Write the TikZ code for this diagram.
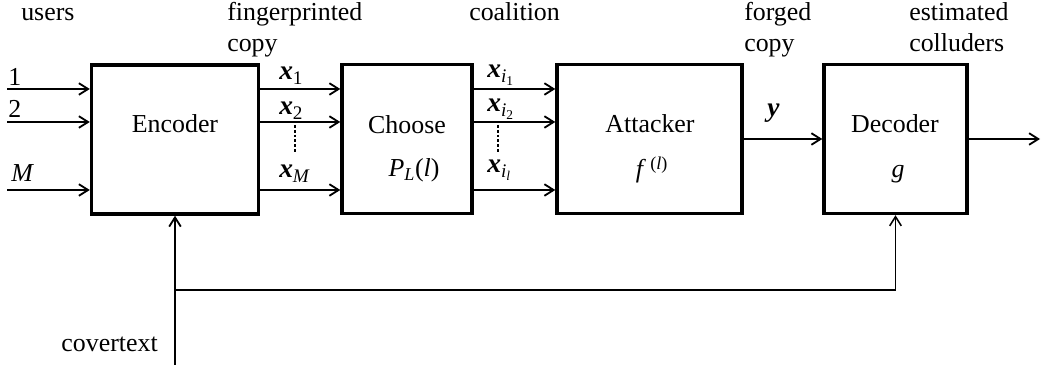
\documentclass[tikz,border=0pt]{standalone}
\usepackage{fontspec}
\setmainfont{Liberation Serif}
\usetikzlibrary{arrows.meta}
\newcommand{\vb}[1]{\textbf{\textit{#1}}}

\begin{document}
\begin{tikzpicture}[x=0.025cm,y=-0.025cm,
  blk/.style={draw,line width=2.4pt,minimum height=3.725cm,inner sep=0pt},
  txt/.style={inner sep=0pt,anchor=base,font=\fontsize{18.4}{22}\selectfont},
  lbl/.style={inner sep=0pt,anchor=base west,font=\fontsize{18.4}{22}\selectfont},
  sig/.style={inner sep=0pt,anchor=base west,font=\fontsize{19.5}{22}\selectfont},
  arr/.style={-{Straight Barb[length=2.3mm,width=2.9mm]},line width=1.3pt},
  dots/.style={line width=1.3pt,dash pattern=on 0.07cm off 0.05cm}
]
\useasboundingbox (0,0) rectangle (1044,365);

% blocks
\node[blk,minimum width=4.175cm] (enc) at (175,139.5) {};
\node[blk,minimum width=3.25cm] (chs) at (407,139) {};
\node[blk,minimum width=4.625cm] (att) at (649.5,139) {};
\node[blk,minimum width=3.575cm] (dec) at (895.5,139) {};

\node[txt] (enct) at (175,133) {Encoder};
\node[txt] (chst) at (407,134) {Choose};
\node[txt] (chsf) at (414,177) {\textit{P}\textsubscript{\textit{L}}(\textit{l})};
\node[txt] (attt) at (650,133) {Attacker};
\node[txt] (attf) at (652,178) {\textit{f}\,\textsuperscript{(\textit{l})}};
\node[txt] (dect) at (895,133) {Decoder};
\node[txt] (decf) at (898,178) {\textit{g}};

% headings
\node[lbl] (users) at (21,21) {users};
\node[lbl] (fpa) at (227,21) {fingerprinted};
\node[lbl] (fpb) at (227,52) {copy};
\node[lbl] (coal) at (469,21) {coalition};
\node[lbl] (fga) at (744,21) {forged};
\node[lbl] (fgb) at (744,52) {copy};
\node[lbl] (esa) at (909,21) {estimated};
\node[lbl] (esb) at (909,52) {colluders};
\node[lbl,anchor=base east] (cover) at (158,352) {covertext};

% signal labels
\node[lbl] (n1) at (8,86) {1};
\node[lbl] (n2) at (8,118) {2};
\node[lbl] (nM) at (11,182) {\textit{M}};
\node[sig] (x1) at (279,80) {\vb{x}\textsubscript{1}};
\node[sig] (x2) at (279,115) {\vb{x}\textsubscript{2}};
\node[sig] (xM) at (279,178) {\vb{x}\textsubscript{\textit{M}}};
\node[sig] (xi1) at (487,78) {\vb{x}\textsubscript{\textit{i}\textsubscript{1}}};
\node[sig] (xi2) at (487,112) {\vb{x}\textsubscript{\textit{i}\textsubscript{2}}};
\node[sig] (xil) at (487,173) {\vb{x}\textsubscript{\textit{i}\textsubscript{\textit{l}}}};
\node[sig] (ylbl) at (767,117) {\vb{y}};

\draw[dots] (295,125) -- (295,153);
\draw[dots] (498,125) -- (498,153);

% connectors
\coordinate (u1) at (7,89);
\coordinate (u2) at (7,122);
\coordinate (uM) at (7,190);
\foreach \u in {u1,u2,uM} {
  \draw[arr] (\u) -- (\u -| enc.west);
  \draw[arr] (enc.east |- \u) -- (chs.west |- \u);
  \draw[arr] (chs.east |- \u) -- (att.west |- \u);
}
\draw[arr] (att) -- (dec);
\coordinate (out) at (1040,139);
\draw[arr] (dec) -- (out);

\coordinate (cv) at (175,365);
\coordinate (jn) at (175,290);
\draw[arr] (cv) -- (enc);
\draw[arr,line width=1.1pt] (jn) -| (dec.south);
\end{tikzpicture}
\end{document}
